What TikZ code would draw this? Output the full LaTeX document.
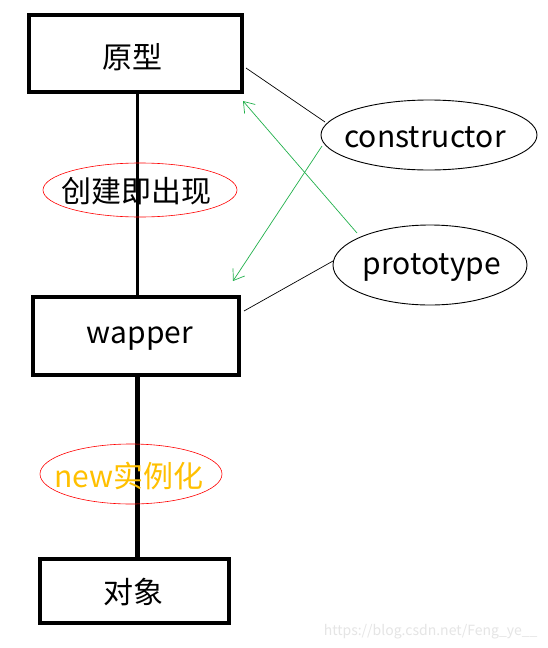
\documentclass[tikz,border=0pt]{standalone}
\usepackage{fontspec}
\setmainfont{Noto Sans CJK SC}
\usetikzlibrary{arrows.meta}
\begin{document}
\begin{tikzpicture}[x=1pt,y=-1pt,
  box/.style={draw,line width=4pt},
  lab/.style={font=\fontsize{30}{33}\selectfont},
  redell/.style={draw=red,line width=0.6pt},
  blkell/.style={draw,line width=0.9pt},
  thin/.style={line width=0.7pt},
  garrow/.style={line width=0.7pt,-{Straight Barb[length=10pt,width=14pt,line width=0.7pt]}}]
\useasboundingbox[fill=white] (0,0) rectangle (548,648);
% boxes
\draw[box] (29,15) rectangle (242,92);
\node[lab] (yx) at (132,57) {原型};
\draw[box] (33,297) rectangle (239,375);
\node[lab] (wp) at (140,339) {wapper};
\draw[box] (40,559) rectangle (229,623);
\node[lab] (dx) at (133,592) {对象};
\coordinate (yxb) at (137,93);
\coordinate (wpt) at (137,296);
\coordinate (wpb) at (137,376);
\coordinate (dxt) at (137,558);
\draw[line width=3pt] (yxb) -- (wpt);
\draw[line width=5pt] (wpb) -- (dxt);
% red ellipses
\draw[redell] (140,190) ellipse (97 and 27);
\node[lab] (cj) at (136,191) {创建即出现};
\draw[redell] (131,474) ellipse (91 and 30);
\node[lab,text={rgb,255:red,255;green,192;blue,0}] (nw) at (129,476) {new实例化};
% black ellipses
\draw[blkell] (429,135) ellipse (108 and 35);
\node[lab] (cs) at (425,137) {constructor};
\draw[blkell] (430,265) ellipse (97 and 40);
\node[lab] (pt) at (432,268) {prototype};
\coordinate (yxr) at (246,68);
\coordinate (csl) at (325,122);
\coordinate (wpr) at (244,311);
\coordinate (ptl) at (333,261);
\draw[thin] (yxr) -- (csl);
\draw[thin] (wpr) -- (ptl);
% green arrows
\coordinate (g1s) at (322,146);
\coordinate (g1e) at (233,281);
\coordinate (g2s) at (357,233);
\coordinate (g2e) at (243,101);
\draw[garrow,draw={rgb,255:red,34;green,177;blue,76}] (g1s) -- (g1e);
\draw[garrow,draw={rgb,255:red,34;green,177;blue,76}] (g2s) -- (g2e);
% watermark
\node[font=\fontsize{14}{16}\selectfont,text=black!10,anchor=east] (wm) at (541,632) {https://blog.csdn.net/Feng\_ye\_\_};
\end{tikzpicture}
\end{document}
